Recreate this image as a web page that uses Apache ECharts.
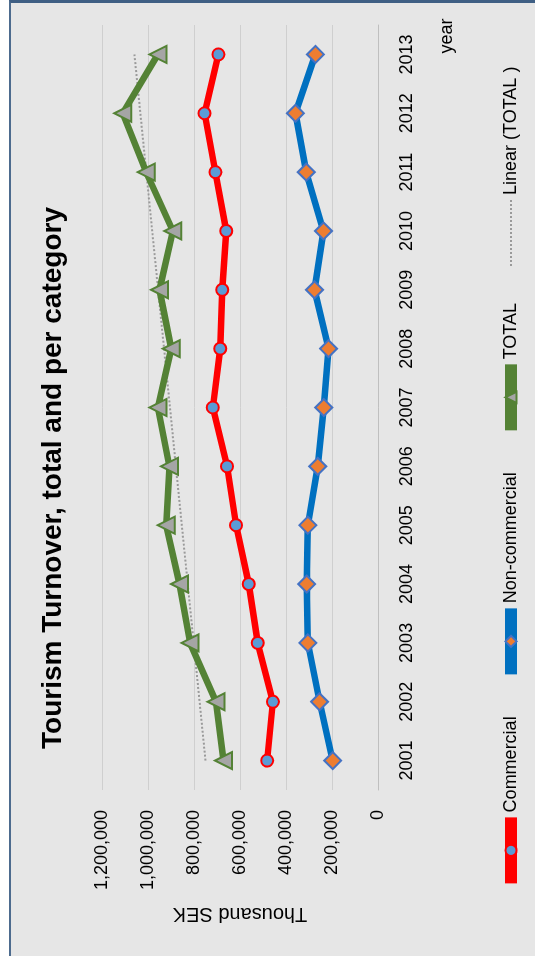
<!DOCTYPE html>
<html>
<head>
<meta charset="utf-8">
<script src="https://cdn.jsdelivr.net/npm/echarts@6/dist/echarts.min.js"></script>
<style>
  html, body { margin:0; padding:0; background:#fff; }
  #frame {
    position:absolute; left:9px; top:0; width:524px; height:953px;
    background:#e6e6e6; border-left:2px solid #4d6b8e; border-top:3px solid #3f5f84;
  }
  /* chart is drawn in landscape and turned a quarter left, like the reference */
  #chart {
    position:absolute; left:0; top:0; width:956px; height:535px;
    transform-origin:0 0; transform:translate(0,956px) rotate(-90deg);
  }
</style>
</head>
<body>
<div id="frame"></div>
<div id="chart"></div>
<script>
var years = ['2001','2002','2003','2004','2005','2006','2007','2008','2009','2010','2011','2012','2013'];
var commercial = [482000, 457000, 523000, 562000, 617000, 656000, 718000, 686000, 677000, 660000, 707000, 754000, 694000];
var nonCommercial = [197000, 254000, 305000, 310000, 305000, 262000, 236000, 215000, 276000, 237000, 312000, 359000, 272000];
var total = [672000, 704000, 817000, 863000, 921000, 907000, 957000, 899000, 950000, 892000, 1008000, 1110000, 957000];
// trend line: only its two ends
var trendTotal = [750000, null, null, null, null, null, null, null, null, null, null, null, 1059000];
var valueTicks = [0, 200000, 400000, 600000, 800000, 1000000, 1200000];

var font = 'Liberation Sans';
function fmt(v) { return String(v).replace(/\B(?=(\d{3})+(?!\d))/g, ','); }

var myChart = echarts.init(document.getElementById('chart'));

option = {
    backgroundColor: 'transparent',
    animation: false,
    title: {
        text: 'Tourism Turnover, total and per category',
        left: 'center',
        top: 34,
        textStyle: { fontFamily: font, fontSize: 28, fontWeight: 'bold', color: '#000' }
    },
    legend: {
        left: 'center',
        top: 497,
        itemWidth: 66,
        itemHeight: 14,
        itemGap: 36,
        textStyle: { fontFamily: font, fontSize: 18, color: '#000' },
        data: [
            { name: 'Commercial', lineStyle: { width: 12 } },
            { name: 'Non-commercial', lineStyle: { width: 12 } },
            { name: 'TOTAL', lineStyle: { width: 12 } },
            { name: 'Linear (TOTAL )', lineStyle: { width: 2 }, itemStyle: { color: 'rgba(0,0,0,0)', borderWidth: 0 } }
        ]
    },
    grid: { left: 166, right: 25, top: 102, bottom: 157 },
    xAxis: {
        type: 'category',
        data: years,
        boundaryGap: true,
        name: 'year',
        nameLocation: 'end',
        nameGap: -11,
        nameTextStyle: { fontFamily: font, fontSize: 18, color: '#000', align: 'center', verticalAlign: 'top', padding: [60, 0, 0, 0] },
        axisLine: { lineStyle: { color: '#bfbfbf', width: 1 } },
        axisTick: { length: 8, lineStyle: { color: '#bfbfbf' } },
        axisLabel: { fontFamily: font, fontSize: 18, color: '#000', margin: 20 }
    },
    yAxis: {
        type: 'value',
        min: valueTicks[0],
        max: valueTicks[valueTicks.length - 1],
        interval: 200000,
        name: 'Thousand SEK',
        nameLocation: 'middle',
        nameRotate: 90,
        nameGap: 114,
        nameTextStyle: { fontFamily: font, fontSize: 20, color: '#000' },
        axisLine: { show: false },
        axisTick: { show: false },
        splitLine: { lineStyle: { color: '#cfcfcf', width: 1 } },
        axisLabel: { fontFamily: font, fontSize: 18, color: '#000', margin: 20, formatter: fmt }
    },
    series: [
        {
            name: 'Linear (TOTAL )',
            type: 'line',
            data: trendTotal,
            connectNulls: true,
            showSymbol: false,
            symbol: 'none',
            lineStyle: { color: '#9a9a9a', width: 2, type: 'dotted' },
            itemStyle: { color: '#9a9a9a' },
            z: 1
        },
        {
            name: 'Commercial',
            type: 'line',
            data: commercial,
            symbol: 'circle',
            symbolSize: 12,
            lineStyle: { color: '#ff0000', width: 6.5 },
            itemStyle: { color: '#5b9bd5', borderColor: '#ff0000', borderWidth: 2 },
            z: 3
        },
        {
            name: 'Non-commercial',
            type: 'line',
            data: nonCommercial,
            symbol: 'diamond',
            symbolSize: 17,
            lineStyle: { color: '#0070c0', width: 6.5 },
            itemStyle: { color: '#ed7d31', borderColor: '#4472c4', borderWidth: 2 },
            z: 3
        },
        {
            name: 'TOTAL',
            type: 'line',
            data: total,
            symbol: 'triangle',
            symbolSize: 17,
            lineStyle: { color: '#548235', width: 6.5 },
            itemStyle: { color: '#a5a5a5', borderColor: '#548235', borderWidth: 2 },
            z: 3
        }
    ]
};

myChart.setOption(option);
</script>
</body>
</html>
